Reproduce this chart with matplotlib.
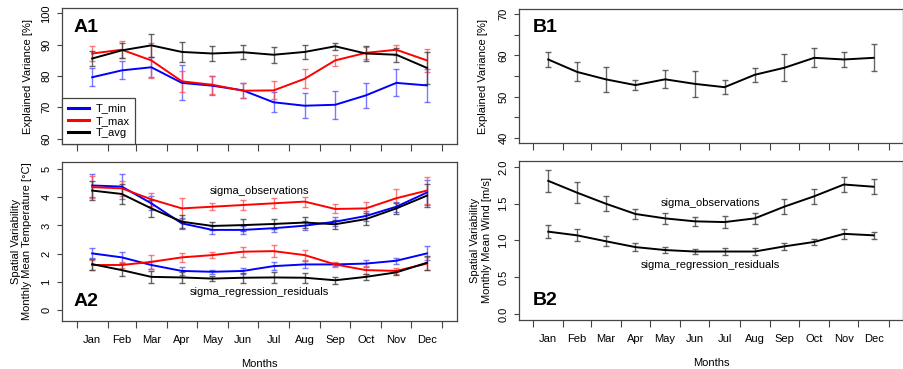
import numpy as np
import matplotlib
matplotlib.use("Agg")
import matplotlib.pyplot as plt
from matplotlib.lines import Line2D

plt.rcParams["font.family"] = ["Liberation Sans", "DejaVu Sans"]

months = ["Jan", "Feb", "Mar", "Apr", "May", "Jun",
          "Jul", "Aug", "Sep", "Oct", "Nov", "Dec"]
month_days = [31, 28, 31, 30, 31, 30, 31, 31, 30, 31, 30, 31]

# A1: explained variance of temperature [%]
a1_tmin = [79.6, 81.8, 82.8, 77.8, 76.9, 75.4, 71.6, 70.5, 70.8, 73.8, 77.8, 77.0]
a1_tmin_err = [2.9, 2.9, 3.2, 5.6, 3.0, 2.4, 3.2, 4.0, 4.4, 3.9, 4.3, 5.2]
a1_tmax = [87.2, 88.4, 85.0, 78.3, 77.2, 75.3, 75.4, 79.1, 85.0, 87.4, 88.4, 85.0]
a1_tmax_err = [2.4, 2.7, 5.5, 3.3, 2.8, 2.4, 2.9, 3.0, 1.8, 2.0, 1.6, 3.7]
a1_tavg = [85.6, 88.2, 89.8, 87.7, 87.2, 87.6, 86.8, 87.7, 89.5, 87.2, 86.8, 82.6]
a1_tavg_err = [2.4, 2.4, 3.6, 3.2, 2.3, 2.3, 2.5, 2.2, 1.2, 2.4, 2.3, 5.1]

# A2: spatial variability of temperature [degC]
a2_obs_tmin = [4.41, 4.37, 3.78, 3.07, 2.84, 2.84, 2.90, 2.99, 3.13, 3.33, 3.66, 4.16]
a2_obs_tmin_err = [0.41, 0.43, 0.25, 0.20, 0.15, 0.15, 0.14, 0.17, 0.15, 0.17, 0.18, 0.45]
a2_obs_tmax = [4.35, 4.31, 3.92, 3.60, 3.66, 3.72, 3.78, 3.84, 3.58, 3.60, 3.96, 4.23]
a2_obs_tmax_err = [0.38, 0.27, 0.24, 0.38, 0.13, 0.18, 0.18, 0.18, 0.16, 0.24, 0.31, 0.47]
a2_obs_tavg = [4.23, 4.11, 3.60, 3.13, 2.98, 3.01, 3.05, 3.10, 3.04, 3.22, 3.60, 4.05]
a2_obs_tavg_err = [0.35, 0.35, 0.30, 0.22, 0.15, 0.22, 0.19, 0.19, 0.16, 0.22, 0.20, 0.41]
a2_res_tmin = [2.01, 1.87, 1.60, 1.39, 1.36, 1.39, 1.56, 1.62, 1.62, 1.65, 1.75, 2.01]
a2_res_tmin_err = [0.18, 0.19, 0.15, 0.15, 0.08, 0.12, 0.13, 0.12, 0.06, 0.11, 0.11, 0.25]
a2_res_tmax = [1.60, 1.60, 1.71, 1.87, 1.95, 2.07, 2.09, 1.95, 1.62, 1.42, 1.39, 1.65]
a2_res_tmax_err = [0.19, 0.10, 0.25, 0.17, 0.12, 0.18, 0.20, 0.17, 0.10, 0.13, 0.10, 0.24]
a2_res_tavg = [1.63, 1.42, 1.18, 1.16, 1.12, 1.15, 1.16, 1.15, 1.06, 1.18, 1.34, 1.68]
a2_res_tavg_err = [0.19, 0.21, 0.22, 0.18, 0.09, 0.18, 0.20, 0.18, 0.12, 0.10, 0.08, 0.24]

# B1: explained variance of wind [%]
b1_wind = [59.0, 56.0, 54.2, 52.8, 54.2, 53.1, 52.3, 55.3, 57.0, 59.4, 59.0, 59.4]
b1_wind_err = [1.9, 2.3, 3.0, 1.3, 2.2, 3.1, 1.7, 1.7, 3.3, 2.3, 1.9, 3.3]

# B2: spatial variability of wind [m/s]
b2_obs = [1.81, 1.65, 1.50, 1.36, 1.30, 1.26, 1.25, 1.30, 1.46, 1.60, 1.76, 1.73]
b2_obs_err = [0.15, 0.145, 0.105, 0.065, 0.07, 0.065, 0.085, 0.07, 0.105, 0.10, 0.10, 0.10]
b2_res = [1.12, 1.07, 0.99, 0.91, 0.87, 0.85, 0.85, 0.85, 0.92, 0.98, 1.09, 1.07]
b2_res_err = [0.09, 0.08, 0.07, 0.05, 0.035, 0.04, 0.05, 0.05, 0.045, 0.045, 0.07, 0.045]

# x scale in day of year: ticks at month boundaries, points at mid-month
bounds = np.concatenate([[0], np.cumsum(month_days)])
mid = (bounds[:-1] + bounds[1:]) / 2.0

BOX = "#444444"
FS = 8


def series(ax, y, err, color, ecolor):
    ax.errorbar(mid, y, yerr=err, color=color, ecolor=ecolor, lw=1.4,
                elinewidth=1.0, capsize=2.5, capthick=1.0, zorder=3)


def style_axes(ax, ylim, yticks, ylabels, show_months):
    ax.set_xlim(-14.6, 379.6)
    ax.set_ylim(*ylim)
    ax.set_xticks(bounds)
    ax.set_xticklabels([])
    ax.set_xticks(mid, minor=True)
    ax.set_xticklabels(months if show_months else [], minor=True, fontsize=FS)
    ax.tick_params(axis="x", which="major", length=5, width=0.8, color=BOX)
    ax.tick_params(axis="x", which="minor", length=0, pad=10)
    ax.set_yticks(yticks)
    ax.set_yticklabels(ylabels, rotation=90, va="center", fontsize=FS)
    ax.tick_params(axis="y", length=3.6, width=0.8, color=BOX, pad=4)
    for s in ax.spines.values():
        s.set_color(BOX)
        s.set_linewidth(0.9)


fig = plt.figure(figsize=(9.04, 3.69), dpi=100)
ax_a1 = fig.add_axes([0.0686, 0.611, 0.437, 0.366])
ax_a2 = fig.add_axes([0.0686, 0.130, 0.437, 0.431])
ax_b1 = fig.add_axes([0.574, 0.6125, 0.4248, 0.363])
ax_b2 = fig.add_axes([0.574, 0.1328, 0.4248, 0.431])

blue_e = (0.3, 0.3, 1.0, 0.75)
red_e = (1.0, 0.3, 0.3, 0.75)
black_e = (0.25, 0.25, 0.25, 0.8)

# A1
series(ax_a1, a1_tmin, a1_tmin_err, "blue", blue_e)
series(ax_a1, a1_tmax, a1_tmax_err, "red", red_e)
series(ax_a1, a1_tavg, a1_tavg_err, "black", black_e)
style_axes(ax_a1, (58.4, 101.6), [60, 70, 80, 90, 100],
           ["60", "70", "80", "90", "100"], False)
ax_a1.set_ylabel("Explained Variance [%]", fontsize=FS)
ax_a1.yaxis.set_label_coords(-0.073, 0.5)
ax_a1.text(0.03, 0.86, "A1", transform=ax_a1.transAxes, fontsize=14,
           fontweight="bold", va="center")
handles = [Line2D([], [], color=c, lw=2.2) for c in ("blue", "red", "black")]
leg = ax_a1.legend(handles, ["T_min", "T_max", "T_avg"], loc="lower left",
                   borderaxespad=0, fontsize=FS, fancybox=False, framealpha=1,
                   edgecolor=BOX, handlelength=1.9, handletextpad=0.6,
                   labelspacing=0.2, borderpad=0.5)
leg.get_frame().set_linewidth(0.9)

# A2
series(ax_a2, a2_obs_tmin, a2_obs_tmin_err, "blue", blue_e)
series(ax_a2, a2_obs_tmax, a2_obs_tmax_err, "red", red_e)
series(ax_a2, a2_obs_tavg, a2_obs_tavg_err, "black", black_e)
series(ax_a2, a2_res_tmin, a2_res_tmin_err, "blue", blue_e)
series(ax_a2, a2_res_tmax, a2_res_tmax_err, "red", red_e)
series(ax_a2, a2_res_tavg, a2_res_tavg_err, "black", black_e)
style_axes(ax_a2, (-0.38, 5.24), [0, 1, 2, 3, 4, 5],
           ["0", "1", "2", "3", "4", "5"], True)
ax_a2.set_ylabel("Spatial Variability\nMonthly Mean Temperature [°C]", fontsize=FS,
                 linespacing=1.2)
ax_a2.yaxis.set_label_coords(-0.075, 0.5)
ax_a2.set_xlabel("Months", fontsize=FS, labelpad=10)
ax_a2.text(182, 4.2, "sigma_observations", fontsize=FS, ha="center", va="center")
ax_a2.text(182, 0.65, "sigma_regression_residuals", fontsize=FS, ha="center",
           va="center")
ax_a2.text(0.03, 0.12, "A2", transform=ax_a2.transAxes, fontsize=14,
           fontweight="bold", va="center")

# B1
series(ax_b1, b1_wind, b1_wind_err, "black", black_e)
style_axes(ax_b1, (38.8, 71.2), [40, 45, 50, 55, 60, 65, 70],
           ["40", "", "50", "", "60", "", "70"], False)
ax_b1.set_ylabel("Explained Variance [%]", fontsize=FS)
ax_b1.yaxis.set_label_coords(-0.081, 0.5)
ax_b1.text(0.035, 0.86, "B1", transform=ax_b1.transAxes, fontsize=14,
           fontweight="bold", va="center")

# B2
series(ax_b2, b2_obs, b2_obs_err, "black", black_e)
series(ax_b2, b2_res, b2_res_err, "black", black_e)
style_axes(ax_b2, (-0.08, 2.08), [0.0, 0.5, 1.0, 1.5, 2.0],
           ["0.0", "0.5", "1.0", "1.5", "2.0"], True)
ax_b2.set_ylabel("Spatial Variability\nMonthly Mean Wind [m/s]", fontsize=FS,
                 linespacing=1.2)
ax_b2.yaxis.set_label_coords(-0.07, 0.5)
ax_b2.set_xlabel("Months", fontsize=FS, labelpad=10)
ax_b2.text(182, 1.51, "sigma_observations", fontsize=FS, ha="center", va="center")
ax_b2.text(182, 0.67, "sigma_regression_residuals", fontsize=FS, ha="center",
           va="center")
ax_b2.text(0.035, 0.12, "B2", transform=ax_b2.transAxes, fontsize=14,
           fontweight="bold", va="center")

fig.savefig("out.png", dpi=100)
